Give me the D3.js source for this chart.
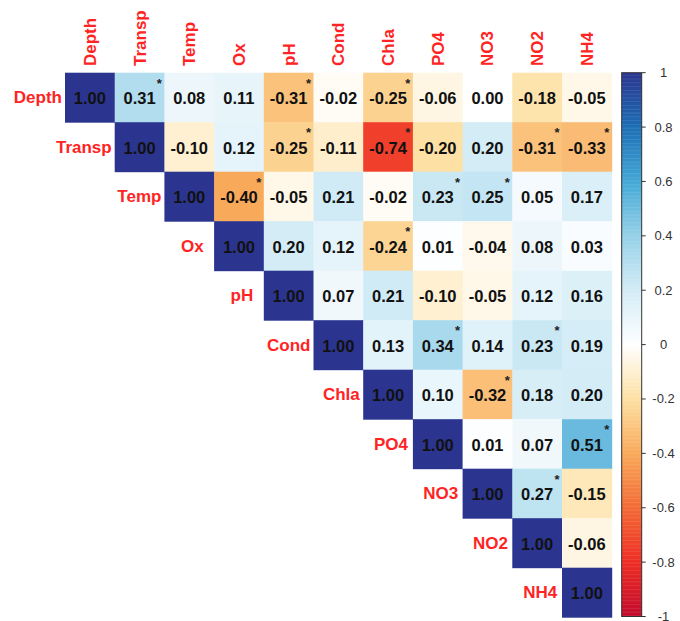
<!DOCTYPE html>
<html>
<head>
<meta charset="utf-8">
<script src="https://cdn.jsdelivr.net/npm/d3@7"></script>
<style>
  html, body { margin: 0; padding: 0; background: #fff; }
  svg { display: block; font-family: "Liberation Sans", Arial, sans-serif; }
</style>
</head>
<body>
<svg id="chart" width="680" height="621"></svg>
<script>
// Variables of the correlation matrix (row / column order)
const variables = ["Depth", "Transp", "Temp", "Ox", "pH", "Cond", "Chla", "PO4", "NO3", "NO2", "NH4"];

// Upper triangle, one row per variable, starting at the diagonal
const corrDepth  = [1.00, 0.31, 0.08, 0.11, -0.31, -0.02, -0.25, -0.06, 0.00, -0.18, -0.05];
const corrTransp = [1.00, -0.10, 0.12, -0.25, -0.11, -0.74, -0.20, 0.20, -0.31, -0.33];
const corrTemp   = [1.00, -0.40, -0.05, 0.21, -0.02, 0.23, 0.25, 0.05, 0.17];
const corrOx     = [1.00, 0.20, 0.12, -0.24, 0.01, -0.04, 0.08, 0.03];
const corrPH     = [1.00, 0.07, 0.21, -0.10, -0.05, 0.12, 0.16];
const corrCond   = [1.00, 0.13, 0.34, 0.14, 0.23, 0.19];
const corrChla   = [1.00, 0.10, -0.32, 0.18, 0.20];
const corrPO4    = [1.00, 0.01, 0.07, 0.51];
const corrNO3    = [1.00, 0.27, -0.15];
const corrNO2    = [1.00, -0.06];
const corrNH4    = [1.00];
const corrRows = [corrDepth, corrTransp, corrTemp, corrOx, corrPH, corrCond,
                  corrChla, corrPO4, corrNO3, corrNO2, corrNH4];

// Significant pairs (marked with an asterisk)
const significant = [
  ["Depth", "Transp"], ["Depth", "pH"], ["Depth", "Chla"],
  ["Transp", "pH"], ["Transp", "Chla"], ["Transp", "NO2"], ["Transp", "NH4"],
  ["Temp", "Ox"], ["Temp", "PO4"], ["Temp", "NO3"],
  ["Ox", "Chla"],
  ["Cond", "PO4"], ["Cond", "NO2"],
  ["Chla", "NO3"],
  ["PO4", "NH4"],
  ["NO3", "NO2"]
];

// Colour legend ticks
const legendTicks = [1, 0.8, 0.6, 0.4, 0.2, 0, -0.2, -0.4, -0.6, -0.8, -1];

// Diverging palette stops
const paletteDomain = [-1, -0.8, -0.6, -0.4, -0.2, 0, 0.2, 0.4, 0.6, 0.8, 1];
const paletteColors = ["#C20B2E", "#EE2D25", "#F36A35", "#F9A95A", "#FDE0A3", "#FFFFFF",
                       "#D3ECF6", "#96D1E8", "#44A8D6", "#1C6FB5", "#2B3590"];

const svg = d3.select("#chart");
const labelColor = "#FF2424";

const color = d3.scaleLinear().domain(paletteDomain).range(paletteColors)
  .interpolate(d3.interpolateRgb).clamp(true);

const x = d3.scaleBand().domain(variables).range([65, 611.7]).padding(0);
const y = d3.scaleBand().domain(variables).range([72.7, 617.2]).padding(0);
const bw = x.bandwidth(), bh = y.bandwidth();

// Flatten the triangle into cells
const sigSet = new Set(significant.map(p => p[0] + "|" + p[1]));
const cells = [];
corrRows.forEach((row, i) => {
  row.forEach((v, k) => {
    const j = i + k;
    cells.push({ r: variables[i], c: variables[j], v,
                 sig: sigSet.has(variables[i] + "|" + variables[j]) });
  });
});

const gCells = svg.append("g");
gCells.selectAll("rect").data(cells).join("rect")
  .attr("x", d => x(d.c))
  .attr("y", d => y(d.r))
  .attr("width", bw + 0.5)
  .attr("height", bh + 0.5)
  .attr("fill", d => color(d.v));

gCells.selectAll("text.val").data(cells).join("text")
  .attr("class", "val")
  .attr("x", d => x(d.c) + bw / 2)
  .attr("y", d => y(d.r) + bh / 2 + 7)
  .attr("text-anchor", "middle")
  .attr("font-size", 16.5)
  .attr("font-weight", "bold")
  .attr("fill", "#111")
  .text(d => d.v.toFixed(2));

gCells.selectAll("text.sig").data(cells.filter(d => d.sig)).join("text")
  .attr("class", "sig")
  .attr("x", d => x(d.c) + bw - 5)
  .attr("y", d => y(d.r) + 15)
  .attr("text-anchor", "middle")
  .attr("font-size", 13)
  .attr("font-weight", "bold")
  .attr("fill", "#222")
  .text("*");

// Column labels along the top, reading upward
svg.append("g").selectAll("text").data(variables).join("text")
  .attr("transform", d => `translate(${x(d) + bw / 2 + 6},66) rotate(-90)`)
  .attr("text-anchor", "start")
  .attr("font-size", 17)
  .attr("font-weight", "bold")
  .attr("fill", labelColor)
  .text(d => d);

// Row labels next to the diagonal
const rowLabels = svg.append("g").selectAll("text").data(variables).join("text")
  .attr("y", d => y(d) + bh / 2 + 6)
  .attr("font-size", 17)
  .attr("font-weight", "bold")
  .attr("fill", labelColor)
  .text(d => d);
rowLabels.each(function(d) {
  const w = this.getComputedTextLength();
  const left = x(d);
  let cx = left - bw / 2 + 3;
  if (cx + w / 2 > left - 3) cx = left - 3 - w / 2;
  d3.select(this).attr("x", cx).attr("text-anchor", "middle");
});

// Colour legend
const ly = d3.scaleLinear().domain([-1, 1]).range([616.5, 72.7]);
const legX = 621.7, legW = 20;
const gLeg = svg.append("g");
const steps = d3.range(-1, 1, 0.005);
gLeg.selectAll("rect.step").data(steps).join("rect")
  .attr("class", "step")
  .attr("x", legX)
  .attr("width", legW)
  .attr("y", d => ly(d + 0.005))
  .attr("height", d => ly(d) - ly(d + 0.005) + 0.4)
  .attr("fill", d => color(d + 0.0025));
gLeg.append("rect")
  .attr("x", legX).attr("y", ly(1))
  .attr("width", legW).attr("height", ly(-1) - ly(1))
  .attr("fill", "none").attr("stroke", "#333").attr("stroke-width", 1);
gLeg.selectAll("line.tick").data(legendTicks).join("line")
  .attr("class", "tick")
  .attr("x1", legX + legW).attr("x2", legX + legW + 4)
  .attr("y1", d => ly(d)).attr("y2", d => ly(d))
  .attr("stroke", "#333").attr("stroke-width", 1);
gLeg.selectAll("text").data(legendTicks).join("text")
  .attr("x", 663.5)
  .attr("y", d => ly(d) + 4.5)
  .attr("text-anchor", "middle")
  .attr("font-size", 13)
  .attr("fill", "#333")
  .text(d => String(d));
</script>
</body>
</html>
